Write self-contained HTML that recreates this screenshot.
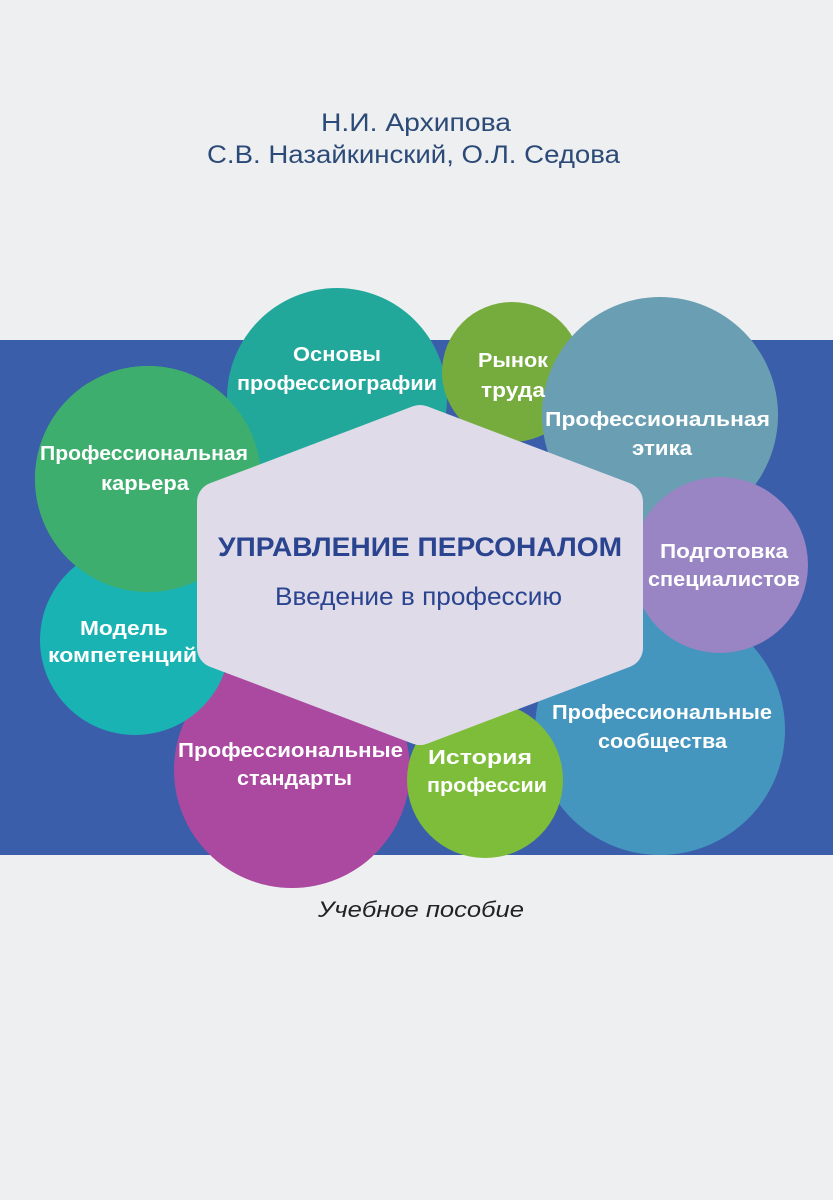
<!DOCTYPE html>
<html><head><meta charset="utf-8"><style>
body{margin:0;width:833px;height:1200px;background:#eeeff0;overflow:hidden}
svg{display:block}
text{font-family:"Liberation Sans",sans-serif}
.w{fill:#fff;font-weight:bold;font-size:20px}
</style></head><body>
<svg width="833" height="1200" viewBox="0 0 833 1200">
<rect width="833" height="1200" fill="#eeeff0"/>
<text x="416" y="131" text-anchor="middle" font-size="25" fill="#2c4a78" textLength="190" lengthAdjust="spacingAndGlyphs">Н.И. Архипова</text>
<text x="207" y="163" font-size="25" fill="#2c4a78" textLength="413" lengthAdjust="spacingAndGlyphs">С.В. Назайкинский, О.Л. Седова</text>
<rect x="0" y="340" width="833" height="515" fill="#3b5eab"/>
<circle cx="148" cy="479" r="113" fill="#3eae6e"/>
<circle cx="337" cy="398" r="110" fill="#22a89a"/>
<circle cx="512" cy="372" r="70" fill="#76ac3e"/>
<circle cx="660" cy="415" r="118" fill="#6a9fb3"/>
<circle cx="660" cy="730" r="125" fill="#4596be"/>
<circle cx="720" cy="565" r="88" fill="#9984c4"/>
<circle cx="292" cy="770" r="118" fill="#ab48a0"/>
<circle cx="135" cy="640" r="95" fill="#1ab3b3"/>
<circle cx="148" cy="479" r="113" fill="#3eae6e" clip-path="url(#c)"/>
<circle cx="485" cy="780" r="78" fill="#7dbd3a"/>
<polygon points="420,425 623,502 623,648 420,725 217,648 217,502" fill="#dfdbe8" stroke="#dfdbe8" stroke-width="40" stroke-linejoin="round"/>
<text x="218" y="556" font-size="27" font-weight="bold" fill="#2a4490" textLength="404" lengthAdjust="spacingAndGlyphs">УПРАВЛЕНИЕ ПЕРСОНАЛОМ</text>
<text x="275" y="605" font-size="25" fill="#2a4490" textLength="287" lengthAdjust="spacingAndGlyphs">Введение в профессию</text>
<text class="w" x="293" y="361" textLength="88" lengthAdjust="spacingAndGlyphs">Основы</text>
<text class="w" x="237" y="390" textLength="200" lengthAdjust="spacingAndGlyphs">профессиографии</text>
<text class="w" x="478" y="367" textLength="70" lengthAdjust="spacingAndGlyphs">Рынок</text>
<text class="w" x="481" y="397" textLength="64" lengthAdjust="spacingAndGlyphs">труда</text>
<text class="w" x="545" y="426" textLength="225" lengthAdjust="spacingAndGlyphs">Профессиональная</text>
<text class="w" x="632" y="455" textLength="60" lengthAdjust="spacingAndGlyphs">этика</text>
<text class="w" x="40" y="460" textLength="208" lengthAdjust="spacingAndGlyphs">Профессиональная</text>
<text class="w" x="101" y="490" textLength="88" lengthAdjust="spacingAndGlyphs">карьера</text>
<text class="w" x="660" y="558" textLength="128" lengthAdjust="spacingAndGlyphs">Подготовка</text>
<text class="w" x="648" y="586" textLength="152" lengthAdjust="spacingAndGlyphs">специалистов</text>
<text class="w" x="80" y="635" textLength="88" lengthAdjust="spacingAndGlyphs">Модель</text>
<text class="w" x="48" y="662" textLength="149" lengthAdjust="spacingAndGlyphs">компетенций</text>
<text class="w" x="552" y="719" textLength="220" lengthAdjust="spacingAndGlyphs">Профессиональные</text>
<text class="w" x="598" y="748" textLength="129" lengthAdjust="spacingAndGlyphs">сообщества</text>
<text class="w" x="178" y="757" textLength="225" lengthAdjust="spacingAndGlyphs">Профессиональные</text>
<text class="w" x="237" y="785" textLength="115" lengthAdjust="spacingAndGlyphs">стандарты</text>
<text class="w" x="428" y="764" textLength="104" lengthAdjust="spacingAndGlyphs">История</text>
<text class="w" x="427" y="792" textLength="120" lengthAdjust="spacingAndGlyphs">профессии</text>
<text x="318" y="917" font-size="22" font-style="italic" fill="#222" textLength="206" lengthAdjust="spacingAndGlyphs">Учебное пособие</text>
</svg>
</body></html>
